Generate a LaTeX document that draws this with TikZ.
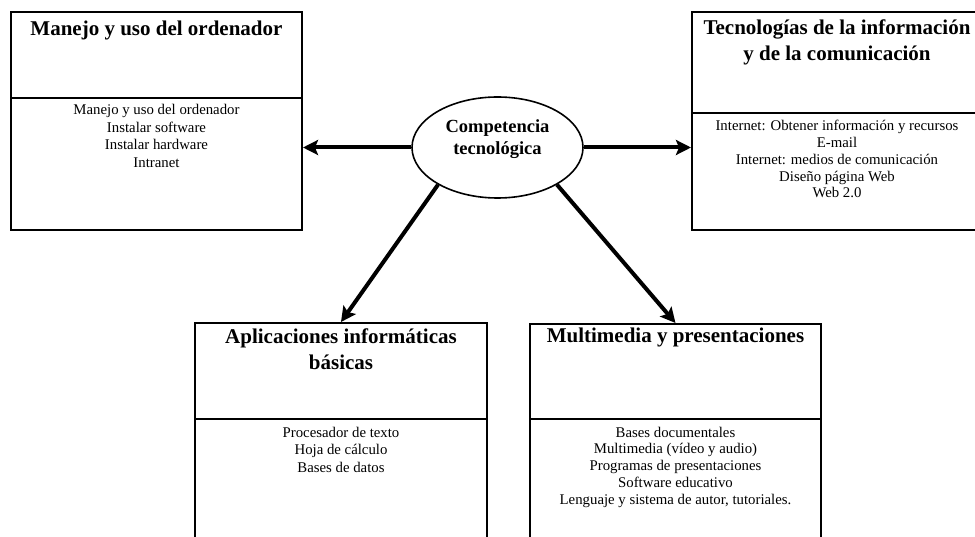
\documentclass[tikz,border=0pt]{standalone}
\usepackage{fontspec}
\setmainfont{Liberation Serif}
\usetikzlibrary{shapes.geometric,arrows.meta}
\begin{document}
\begin{tikzpicture}[x=1pt,y=-1pt,
  box/.style={draw, line width=2pt, inner sep=0pt, minimum width=#1},
  divider/.style={line width=2pt},
  ttl/.style={anchor=base, align=center, inner sep=0pt, font=\fontsize{21}{26.5}\selectfont\bfseries},
  body/.style={anchor=base, align=center, inner sep=0pt, font=\fontsize{14.8}{#1}\selectfont},
  arr/.style={line width=4pt, -{Stealth[length=15pt,width=15pt,inset=3pt]}},
]
\clip (0,0) rectangle (975,537);
\fill[white] (0,0) rectangle (975,537);
% boxes
\node[box=291, minimum height=218] (b1) at (156.5,121) {};
\node[box=290, minimum height=218] (b2) at (837,121) {};
\node[box=292, minimum height=230] (b3) at (341,438) {};
\node[box=291, minimum height=230] (b4) at (675.5,439) {};
\draw[divider] (b1.west |- 0,98) -- (b1.east |- 0,98);
\draw[divider] (b2.west |- 0,113) -- (b2.east |- 0,113);
\draw[divider] (b3.west |- 0,419) -- (b3.east |- 0,419);
\draw[divider] (b4.west |- 0,419) -- (b4.east |- 0,419);
% titles (anchor = baseline of last line)
\node[ttl] (t1) at (156.5,36) {Manejo y uso del ordenador};
\node[ttl] (t2) at (837,61) {Tecnologías de la información\\y de la comunicación};
\node[ttl] (t3) at (341,370) {Aplicaciones informáticas\\básicas};
\node[ttl] (t4) at (675.5,343) {Multimedia y presentaciones};
% bodies
\node[body=17.5] (c1) at (156.5,167.5) {Manejo y uso del ordenador\\Instalar software\\Instalar hardware\\Intranet};
\node[body=16.75] (c2) at (837,198) {Internet: Obtener información y recursos\\E-mail\\Internet: medios de comunicación\\Diseño página Web\\Web 2.0};
\node[body=17.5] (c3) at (341,472) {Procesador de texto\\Hoja de cálculo\\Bases de datos};
\node[body=16.75] (c4) at (675.5,504) {Bases documentales\\Multimedia (vídeo y audio)\\Programas de presentaciones\\Software educativo\\Lenguaje y sistema de autor, tutoriales.};
% centre
\node[draw, ellipse, line width=1.6pt, minimum width=171, minimum height=101, inner sep=0pt] (ell) at (497.5,147.5) {};
\node[anchor=base, align=center, inner sep=0pt, font=\fontsize{18.5}{22}\selectfont\bfseries] (et) at (497.5,155) {Competencia\\tecnológica};
% connectors
\draw[arr] (ell.west) -- (ell.west -| b1.east);
\draw[arr] (ell.east) -- (ell.east -| b2.west);
\draw[arr] (ell.212) -- (b3.north);
\draw[arr] (ell.328) -- (b4.north);
\end{tikzpicture}
\end{document}
